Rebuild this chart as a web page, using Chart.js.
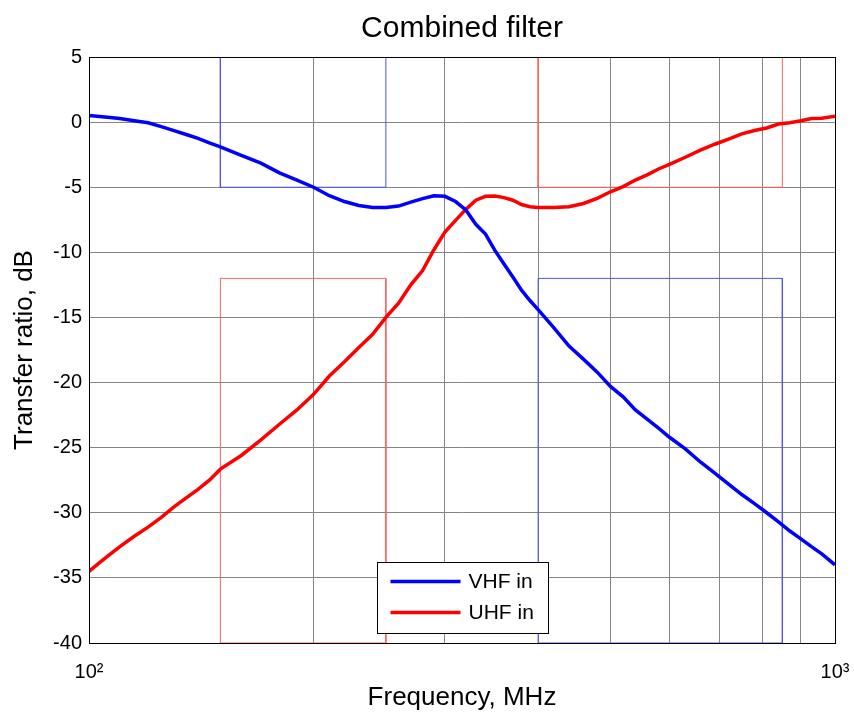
<!DOCTYPE html>
<html>
<head>
<meta charset="utf-8">
<title>Combined filter</title>
<script src="https://cdn.jsdelivr.net/npm/chart.js@4.4.1/dist/chart.umd.min.js"></script>
<style>
  body { margin: 0; background: #fff; }
</style>
</head>
<body>
<canvas id="myChart" width="854" height="721"></canvas>
<script>
const freq = [100, 105, 110, 115, 120, 125, 130, 135, 140, 145, 150, 160, 170, 180, 190, 200,
  210, 220, 230, 240, 250, 260, 270, 280, 290, 300, 310, 320, 330, 340, 350, 360, 370, 380, 390,
  400, 420, 440, 460, 480, 500, 520, 540, 560, 580, 600, 630, 660, 690, 720, 750, 780, 810, 840,
  870, 900, 930, 960, 1000]
const vhf = [0.5, 0.4, 0.28, 0.1, -0.05, -0.35, -0.65, -0.95, -1.25, -1.6, -1.9, -2.55, -3.15, -3.9,
  -4.45, -5.0, -5.65, -6.1, -6.4, -6.55, -6.55, -6.45, -6.15, -5.88, -5.65, -5.7, -6.1, -6.75, -7.85,
  -8.6, -9.85, -10.9, -11.9, -12.9, -13.7, -14.4, -15.8, -17.2, -18.2, -19.2, -20.3, -21.1, -22.1,
  -22.8, -23.5, -24.2, -25.1, -26.1, -26.95, -27.8, -28.6, -29.3, -30.0, -30.7, -31.4, -32.0, -32.6,
  -33.15, -34.0]
const uhf = [-34.5, -33.5, -32.6, -31.8, -31.1, -30.35, -29.55, -28.85, -28.2, -27.5, -26.65, -25.6,
  -24.4, -23.2, -22.1, -20.9, -19.5, -18.4, -17.3, -16.3, -15.0, -13.9, -12.5, -11.4, -9.8, -8.45,
  -7.55, -6.7, -6.0, -5.7, -5.67, -5.8, -6.0, -6.33, -6.5, -6.55, -6.55, -6.5, -6.25, -5.85, -5.35,
  -4.95, -4.45, -4.05, -3.6, -3.25, -2.7, -2.15, -1.7, -1.3, -0.9, -0.65, -0.45, -0.15, -0.05, 0.1,
  0.28, 0.3, 0.45]

// mask rectangles (frequency, dB)
const vhfPassX = [150, 150, 250, 250, 150]
const vhfPassY = [5, -5, -5, 5, 5]
const vhfStopX = [400, 400, 850, 850, 400]
const vhfStopY = [-40, -12, -12, -40, -40]
const uhfPassX = [400, 400, 850, 850, 400]
const uhfPassY = [5, -5, -5, 5, 5]
const uhfStopX = [150, 150, 250, 250, 150]
const uhfStopY = [-40, -12, -12, -40, -40]

const freqTicks = [100, 200, 300, 400, 500, 600, 700, 800, 900, 1000]
const xTickLabels = ['10²', '', '', '', '', '', '', '', '', '10³']

const FONT = "'Liberation Sans', Arial, sans-serif"

const pts = (xs, ys) => xs.map((x, i) => ({x: x, y: ys[i]}))

const maskLine = (xs, ys, color) => ({
  data: pts(xs, ys),
  borderColor: color,
  borderWidth: 1,
  pointRadius: 0,
  fill: false,
  tension: 0,
})

// box round the plot, title above the plot, legend inside
const frame = {
  id: 'frame',
  afterDraw(chart) {
    const {ctx, chartArea: a} = chart
    ctx.save()
    ctx.strokeStyle = '#000'
    ctx.lineWidth = 1
    ctx.strokeRect(Math.round(a.left) + 0.5, Math.round(a.top) + 0.5,
      Math.round(a.right - a.left), Math.round(a.bottom - a.top))

    ctx.fillStyle = '#000'
    ctx.font = '30px ' + FONT
    ctx.textAlign = 'center'
    ctx.textBaseline = 'alphabetic'
    ctx.fillText('Combined filter', (a.left + a.right) / 2, 37)

    const items = chart.data.datasets.filter(d => d.inLegend)
    const lx = 377.5, ly = 562.5, lw = 171, lh = 71
    ctx.fillStyle = '#fff'
    ctx.fillRect(lx, ly, lw, lh)
    ctx.strokeRect(lx, ly, lw, lh)
    ctx.font = '21px ' + FONT
    ctx.textAlign = 'left'
    ctx.textBaseline = 'middle'
    items.forEach((d, i) => {
      const y = ly + 19 + i * 31
      ctx.strokeStyle = d.borderColor
      ctx.lineWidth = 3.5
      ctx.beginPath()
      ctx.moveTo(lx + 13, y)
      ctx.lineTo(lx + 83, y)
      ctx.stroke()
      ctx.fillStyle = '#000'
      ctx.fillText(d.label, lx + 91, y + 1)
    })
    ctx.restore()
  }
}

new Chart('myChart', {
  type: 'line',
  data: {
    datasets: [
      {label: 'VHF in', inLegend: true, data: pts(freq, vhf), borderColor: '#0000ff',
        borderWidth: 3.5, pointRadius: 0, fill: false, tension: 0},
      {label: 'UHF in', inLegend: true, data: pts(freq, uhf), borderColor: '#ff0000',
        borderWidth: 3.5, pointRadius: 0, fill: false, tension: 0},
      maskLine(vhfPassX, vhfPassY, '#5050ff'),
      maskLine(vhfStopX, vhfStopY, '#5050ff'),
      maskLine(uhfPassX, uhfPassY, '#ff6060'),
      maskLine(uhfStopX, uhfStopY, '#ff6060'),
    ]
  },
  options: {
    responsive: false,
    animation: false,
    layout: {padding: {top: 57, right: 19, bottom: 0, left: 0}},
    plugins: {
      legend: {display: false},
      title: {display: false},
      tooltip: {enabled: false},
    },
    scales: {
      x: {
        type: 'logarithmic',
        min: 100,
        max: 1000,
        afterBuildTicks: s => { s.ticks = freqTicks.map(v => ({value: v})) },
        afterFit: s => { s.height = 78; s.paddingRight = 10 },
        ticks: {
          autoSkip: false, maxRotation: 0, minRotation: 0, padding: 17,
          color: '#000', font: {family: FONT, size: 20},
          callback: (v, i) => xTickLabels[i],
        },
        grid: {color: '#858585', drawTicks: false},
        border: {color: '#000'},
        title: {display: true, text: 'Frequency, MHz', color: '#000',
          font: {family: FONT, size: 26}, padding: {top: 0, bottom: 8}},
      },
      y: {
        min: -40,
        max: 5,
        afterFit: s => { s.width = 89 },
        ticks: {stepSize: 5, padding: 7, color: '#000', font: {family: FONT, size: 20}},
        grid: {color: '#858585', drawTicks: false},
        border: {color: '#000'},
        title: {display: true, text: 'Transfer ratio, dB', color: '#000',
          font: {family: FONT, size: 26}, padding: {top: 9, bottom: 0}},
      }
    }
  },
  plugins: [frame]
})
</script>
</body>
</html>
